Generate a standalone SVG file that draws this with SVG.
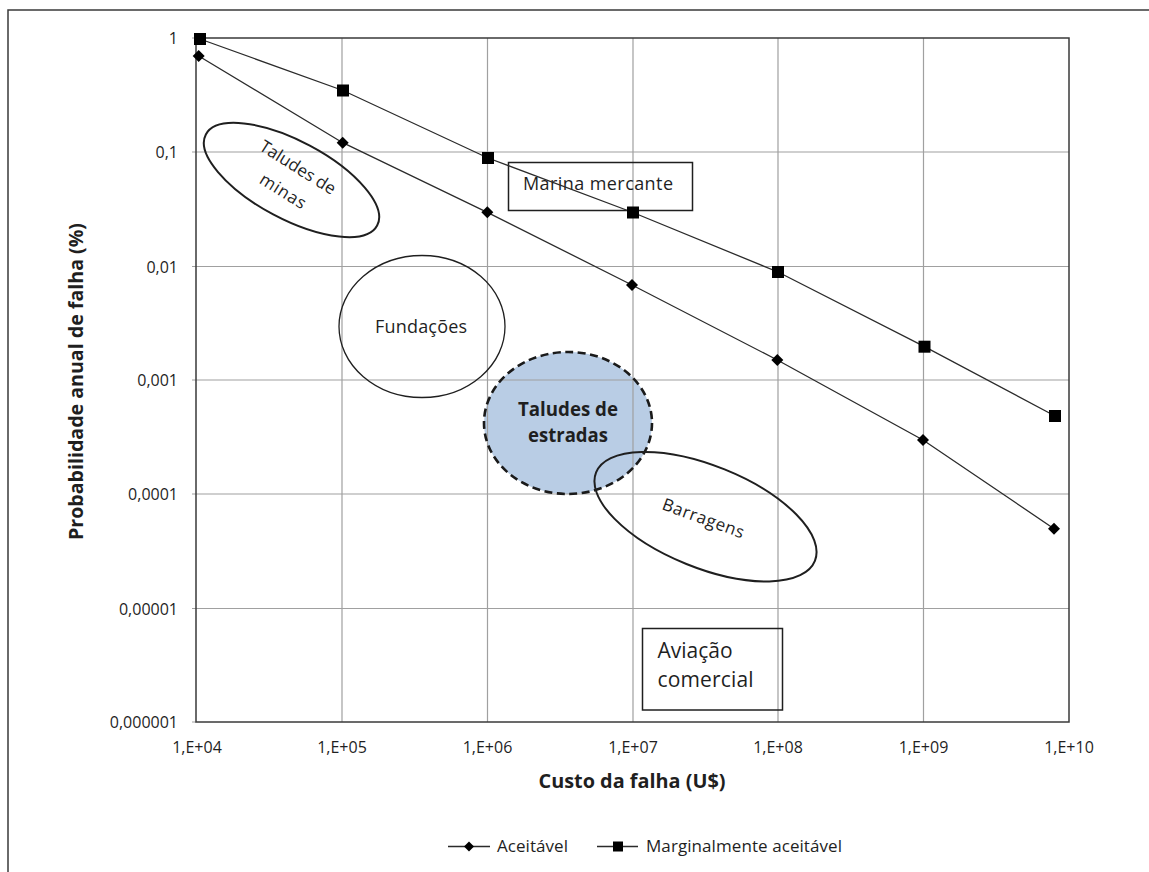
<svg xmlns="http://www.w3.org/2000/svg" width="1149" height="872" viewBox="0 0 1149 872">
<style>
  text { font-family: "Open Sans", "Liberation Sans", sans-serif; fill: #1f1f1f; }
  .tick { font-size: 16px; }
  .ylab { text-anchor: end; }
  .xlab { text-anchor: middle; }
  .title { font-size: 20px; font-weight: bold; text-anchor: middle; }
  .grid { stroke: #a0a0a0; stroke-width: 1.2; fill: none; }
  .series { stroke: #2b2b2b; stroke-width: 1.3; fill: none; }
  .shape { fill: none; stroke: #1f1f1f; }
  .lbl { font-size: 17px; text-anchor: middle; }
</style>
<defs>
  <path id="dia" d="M0,-6 L6,0 L0,6 L-6,0 Z" fill="#000"/>
  <rect id="sq" x="-6" y="-6" width="12" height="12" fill="#000"/>
  <path id="diaS" d="M0,-5 L5,0 L0,5 L-5,0 Z" fill="#000"/>
  <rect id="sqS" x="-5" y="-5" width="10" height="10" fill="#000"/>
</defs>
<rect x="0" y="0" width="1149" height="872" fill="#fff"/>
<rect x="8" y="10" width="1160" height="880" fill="none" stroke="#3a3a3a" stroke-width="1.5"/>

<!-- fill of road slopes ellipse below grid -->
<ellipse cx="568" cy="423" rx="84" ry="71" fill="#B9CDE5"/>

<g id="grid">
  <path class="grid" d="M342,38V722 M487.5,38V722 M633,38V722 M778,38V722 M923.5,38V722"/>
  <path class="grid" d="M192,152H1069 M192,266.5H1069 M192,380H1069 M192,494H1069 M192,608.5H1069 M192,722H196 M192,38H196"/>
  <rect x="196" y="38" width="873" height="684" fill="none" stroke="#3a3a3a" stroke-width="1.5"/>
</g>

<g id="y-axis-labels" class="tick ylab">
  <text x="178" y="44">1</text>
  <text x="178" y="158">0,1</text>
  <text x="178" y="272.5">0,01</text>
  <text x="178" y="386">0,001</text>
  <text x="178" y="500">0,0001</text>
  <text x="178" y="614.5">0,00001</text>
  <text x="178" y="728">0,000001</text>
</g>
<g id="x-axis-labels" class="tick xlab">
  <text x="197" y="753">1,E+04</text>
  <text x="342" y="753">1,E+05</text>
  <text x="487.5" y="753">1,E+06</text>
  <text x="633" y="753">1,E+07</text>
  <text x="778" y="753">1,E+08</text>
  <text x="923.5" y="753">1,E+09</text>
  <text x="1069" y="753">1,E+10</text>
</g>

<text class="title" x="632" y="788" textLength="187" lengthAdjust="spacingAndGlyphs">Custo da falha (U$)</text>
<text class="title" transform="translate(83,381.5) rotate(-90)" x="0" y="0" textLength="317" lengthAdjust="spacingAndGlyphs">Probabilidade anual de falha (%)</text>

<g id="taludes-minas">
  <ellipse class="shape" cx="291.5" cy="180" rx="97" ry="39" transform="rotate(28 291.5 180)" stroke-width="2"/>
  <g transform="translate(290,180) rotate(32)">
    <text class="lbl" x="0" y="-9" textLength="86">Taludes de</text>
    <text class="lbl" x="0" y="19" textLength="51">minas</text>
  </g>
</g>

<g id="fundacoes">
  <ellipse class="shape" cx="422" cy="326.5" rx="83" ry="71" stroke-width="1.3"/>
  <text x="421" y="333" font-size="18" text-anchor="middle" textLength="92">Fundações</text>
</g>

<g id="taludes-estradas">
  <ellipse cx="568" cy="423" rx="84" ry="71" fill="none" stroke="#1a1a1a" stroke-width="2.6" stroke-dasharray="8 4.5"/>
  <text x="568" y="416" font-size="20" font-weight="bold" text-anchor="middle" textLength="100" lengthAdjust="spacingAndGlyphs">Taludes de</text>
  <text x="568" y="441.5" font-size="20" font-weight="bold" text-anchor="middle" textLength="80" lengthAdjust="spacingAndGlyphs">estradas</text>
</g>

<g id="barragens">
  <ellipse class="shape" cx="705.5" cy="516.7" rx="118" ry="51" transform="rotate(22 705.5 516.7)" stroke-width="2"/>
  <text class="lbl" transform="translate(703,519) rotate(20)" x="0" y="5" textLength="86">Barragens</text>
</g>

<g id="marina-mercante">
  <rect x="508.5" y="162.5" width="184" height="48" fill="none" stroke="#1f1f1f" stroke-width="1.5"/>
  <text x="523" y="190" font-size="18" textLength="150">Marina mercante</text>
</g>

<g id="aviacao-comercial">
  <rect x="642.5" y="628.5" width="140" height="81.5" fill="none" stroke="#1f1f1f" stroke-width="1.5"/>
  <text x="657.5" y="658" font-size="21">Aviação</text>
  <text x="657.5" y="686.5" font-size="21" textLength="96">comercial</text>
</g>

<g id="connectors">
  <polyline id="aceitavel" class="series" points="198.7,56 342.7,142.7 487.3,212.3 632,285 777.3,360 923,440 1054,528.7"/>
  <polyline id="marginal" class="series" points="200,39 343,90.5 488,158 633,212.5 778,272 924.5,346.7 1055,416"/>
</g>

<g id="markers-aceitavel">
  <use href="#dia" x="198.7" y="56"/>
  <use href="#dia" x="342.7" y="142.7"/>
  <use href="#dia" x="487.3" y="212.3"/>
  <use href="#dia" x="632" y="285"/>
  <use href="#dia" x="777.3" y="360"/>
  <use href="#dia" x="923" y="440"/>
  <use href="#dia" x="1054" y="528.7"/>
</g>
<g id="markers-marginal">
  <use href="#sq" x="200" y="39"/>
  <use href="#sq" x="343" y="90.5"/>
  <use href="#sq" x="488" y="158"/>
  <use href="#sq" x="633" y="212.5"/>
  <use href="#sq" x="778" y="272"/>
  <use href="#sq" x="924.5" y="346.7"/>
  <use href="#sq" x="1055" y="416"/>
</g>

<g id="legend">
  <path class="series" d="M448,846.5H490 M597,846.5H638"/>
  <use href="#diaS" x="469" y="846.5"/>
  <use href="#sqS" x="618" y="846.5"/>
  <text x="497" y="852" font-size="17" textLength="71">Aceitável</text>
  <text x="646" y="852" font-size="17" textLength="196">Marginalmente aceitável</text>
</g>
</svg>
